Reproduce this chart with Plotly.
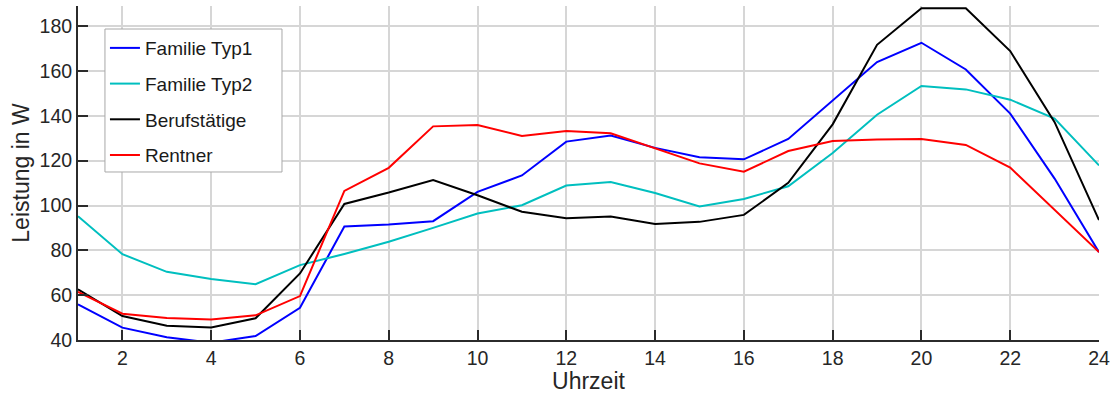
import plotly.graph_objects as go

# Stunden des Tages
stunden = list(range(1, 25))

# Mittlere Leistung je Haushaltstyp in W
familie_typ1 = [55.9, 45.5, 41.2, 38.8, 41.8, 54.4, 90.6, 91.5, 93.0, 106.1, 113.4, 128.5,
                131.2, 125.7, 121.5, 120.6, 129.7, 146.9, 164.0, 172.6, 160.7, 141.0, 112.0, 79.2]
familie_typ2 = [95.2, 78.3, 70.4, 67.2, 64.9, 73.4, 78.4, 83.8, 90.0, 96.4, 100.1, 108.9,
                110.5, 105.6, 99.6, 102.9, 108.6, 123.4, 140.5, 153.3, 151.8, 147.2, 138.8, 117.9]
berufstaetige = [62.6, 50.7, 46.4, 45.6, 49.7, 69.7, 100.7, 105.8, 111.4, 104.6, 97.2, 94.3,
                 95.1, 91.8, 92.7, 95.8, 110.1, 136.2, 171.7, 188.0, 188.0, 168.9, 137.2, 93.5]
rentner = [61.5, 51.7, 49.8, 49.2, 51.0, 59.6, 106.5, 116.8, 135.3, 135.9, 131.0, 133.2,
           132.2, 125.4, 118.8, 115.1, 124.3, 128.8, 129.5, 129.7, 127.0, 116.9, 98.2, 79.2]

namen = ["Familie Typ1", "Familie Typ2", "Berufstätige", "Rentner"]
farben = ["#0000ff", "#00bfbf", "#000000", "#ff0000"]
reihen = [familie_typ1, familie_typ2, berufstaetige, rentner]

x_ticks = list(range(2, 25, 2))
y_ticks = list(range(40, 181, 20))

FONT = "Liberation Sans, Arial, sans-serif"
ACHSE = "#2b2b2b"
TEXT = "#262626"

fig = go.Figure()
for name, farbe, werte in zip(namen, farben, reihen):
    fig.add_trace(go.Scatter(
        x=stunden, y=werte, name=name, mode="lines",
        line=dict(color=farbe, width=2),
        legendgroup=name,
    ))

# Legendenrahmen als eigene Fläche, etwas breiter als der Text
fig.add_shape(
    type="rect", xref="paper", yref="paper",
    x0=0.0264, x1=0.1998, y0=0.503, y1=0.9311,
    fillcolor="white", line=dict(color="#a8a8a8", width=1),
    layer="above",
)

fig.update_layout(
    width=1116, height=394,
    margin=dict(l=78, r=17, t=6, b=54),
    paper_bgcolor="white", plot_bgcolor="white",
    font=dict(family=FONT, size=19, color=TEXT),
    showlegend=True,
    legend=dict(
        x=0.0264, y=0.931, xanchor="left", yanchor="top",
        bgcolor="rgba(0,0,0,0)", borderwidth=0,
        font=dict(family=FONT, size=19, color="#1a1a1a"),
        tracegroupgap=8, itemwidth=30,
    ),
)

fig.update_xaxes(
    range=[1, 24], tickvals=x_ticks, ticktext=[str(v) for v in x_ticks],
    showgrid=True, gridcolor="#d6d6d6", gridwidth=1.5,
    showline=True, linecolor=ACHSE, linewidth=2, mirror=False,
    ticks="inside", ticklen=10, tickwidth=2, tickcolor=ACHSE,
    zeroline=False,
    title=dict(text="Uhrzeit", standoff=2, font=dict(size=23, color=TEXT)),
    tickfont=dict(size=19.5, color=TEXT),
)
fig.update_yaxes(
    range=[40, 189], tickvals=y_ticks, ticktext=[str(v) for v in y_ticks],
    showgrid=True, gridcolor="#d6d6d6", gridwidth=1.5,
    showline=True, linecolor=ACHSE, linewidth=2, mirror=False,
    ticks="inside", ticklen=10, tickwidth=2, tickcolor=ACHSE,
    zeroline=False,
    title=dict(text="Leistung in W", standoff=4, font=dict(size=23, color=TEXT)),
    tickfont=dict(size=19.5, color=TEXT),
)

fig.write_html("out.html")
